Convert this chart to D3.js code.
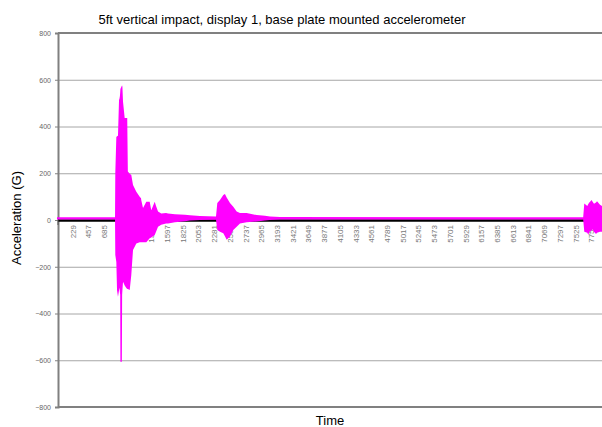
<!DOCTYPE html>
<html>
<head>
<meta charset="utf-8">
<script src="https://cdn.jsdelivr.net/npm/d3@7"></script>
<style>
  body { margin: 0; background: #fff; }
  text { font-family: "Liberation Sans", Arial, sans-serif; }
</style>
</head>
<body>
<svg id="chart" width="602" height="427"></svg>
<script>
// sample index where the envelope was read
const samples = [1, 843, 847, 862, 872, 886, 901, 908, 914, 918, 921, 942, 946, 950, 959, 983, 1007, 1020, 1029, 1056, 1079, 1104, 1152, 1201, 1220, 1224, 1249, 1297, 1346, 1369, 1419, 1438, 1467, 1514, 1583, 1612, 1713, 1858, 1931, 2076, 2308, 2327, 2366, 2414, 2438, 2463, 2511, 2559, 2608, 2656, 2753, 2898, 3019, 3092, 3237, 7636, 7652, 7696, 7710, 7725, 7759, 7768, 7793, 7822, 7837, 7880, 7909];
// upper envelope of acceleration (G)
const upper = [12, 12, 200, 355, 358, 360, 513, 520, 530, 545, 560, 574, 575, 570, 506, 436, 436, 436, 207, 198, 192, 150, 121, 100, 93, 85, 51, 78, 78, 42, 78, 60, 36, 28, 30, 28, 25, 22, 20, 17, 15, 73, 86, 107, 111, 96, 73, 57, 36, 30, 30, 21, 18, 15, 13, 12, 71, 60, 68, 75, 86, 80, 70, 75, 80, 65, 60];
// lower envelope of acceleration (G)
const lower = [2, 2, -150, -180, -300, -328, -300, -290, -310, -320, -606, -606, -320, -300, -264, -280, -291, -295, -295, -299, -235, -128, -100, -95, -95, -95, -95, -95, -78, -75, -64, -50, -29, -20, -15, -15, -10, -5, -2, 0, 1, -43, -50, -57, -70, -85, -71, -43, -29, -15, -10, -6, -2, 0, 2, 2, -50, -55, -64, -50, -45, -40, -50, -60, -55, -50, -50];

const xLabels = d3.range(229, 7754, 228);
const yTicks = [-800, -600, -400, -200, 0, 200, 400, 600, 800];

const svg = d3.select("#chart");

const plotLeft = 58, plotRight = 602, plotTop = 33, plotBottom = 407;

const x = d3.scaleLinear().domain([1, 7909]).range([57, 602]);
const y = d3.scaleLinear().domain([-800, 800]).range([plotBottom, plotTop]);

// gridlines
svg.append("g")
    .selectAll("line")
    .data(yTicks.filter(d => d !== 0 && d !== 800 && d !== -800))
    .enter()
    .append("line")
    .attr("x1", plotLeft)
    .attr("x2", plotRight)
    .attr("y1", d => y(d) + 0.5)
    .attr("y2", d => y(d) + 0.5)
    .attr("stroke", "#a6a6a6")
    .attr("stroke-width", 1);

// frame lines top and bottom
svg.append("line")
    .attr("x1", plotLeft).attr("x2", plotRight)
    .attr("y1", y(800)).attr("y2", y(800))
    .attr("stroke", "#808080").attr("stroke-width", 2);
svg.append("line")
    .attr("x1", plotLeft).attr("x2", plotRight)
    .attr("y1", y(-800)).attr("y2", y(-800))
    .attr("stroke", "#808080").attr("stroke-width", 2);

// y axis
const yAxis = d3.axisLeft(y).tickValues(yTicks).tickSize(3).tickFormat(d3.format("d"));
const yg = svg.append("g")
    .attr("transform", `translate(${plotLeft},0)`)
    .call(yAxis);
yg.select(".domain").attr("stroke", "#808080").attr("stroke-width", 2);
yg.selectAll(".tick line").attr("stroke", "#808080");
yg.selectAll(".tick text")
    .attr("font-size", 7)
    .attr("fill", "#666")
    .attr("x", -7)
    .style("font-family", "'Liberation Sans', Arial, sans-serif");

// zero line
svg.append("line")
    .attr("x1", plotLeft).attr("x2", plotRight)
    .attr("y1", y(0) + 0.5).attr("y2", y(0) + 0.5)
    .attr("stroke", "#000").attr("stroke-width", 2.5);
svg.append("line")
    .attr("x1", plotLeft).attr("x2", plotLeft)
    .attr("y1", y(0)).attr("y2", y(0) + 5)
    .attr("stroke", "#555").attr("stroke-width", 1);

// x tick labels
svg.append("g")
    .selectAll("text")
    .data(xLabels)
    .enter()
    .append("text")
    .attr("transform", d => `translate(${x(d) + 3},${y(0) + 5}) rotate(-90)`)
    .attr("text-anchor", "end")
    .attr("font-size", 8)
    .attr("fill", "#777")
    .text(d => d);

// signal envelope
const env = samples.map((s, i) => ({ s, hi: upper[i], lo: lower[i] }));
svg.append("path")
    .datum(env)
    .attr("d", d3.area()
        .x(d => x(d.s))
        .y0(d => y(d.lo))
        .y1(d => y(d.hi)))
    .attr("fill", "#ff00ff");

// titles
svg.append("text")
    .attr("x", 282)
    .attr("y", 24)
    .attr("text-anchor", "middle")
    .attr("font-size", 13)
    .attr("fill", "#000")
    .text("5ft vertical impact, display 1, base plate mounted accelerometer");

svg.append("text")
    .attr("transform", `translate(21,218) rotate(-90)`)
    .attr("text-anchor", "middle")
    .attr("font-size", 13)
    .attr("fill", "#000")
    .text("Acceleration (G)");

svg.append("text")
    .attr("x", 330)
    .attr("y", 425)
    .attr("text-anchor", "middle")
    .attr("font-size", 13)
    .attr("fill", "#000")
    .text("Time");
</script>
</body>
</html>
